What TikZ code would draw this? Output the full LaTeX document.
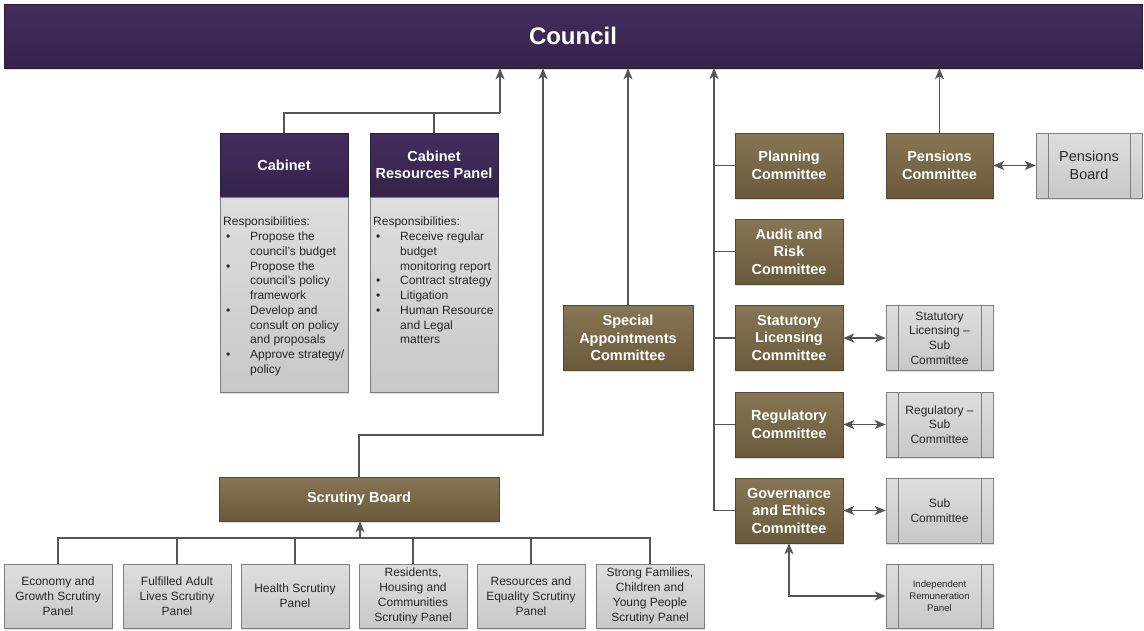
\documentclass[tikz,border=0pt]{standalone}
\usepackage{fontspec}
\setmainfont{Liberation Sans}
\usetikzlibrary{arrows.meta,shadows}
\definecolor{purpletop}{HTML}{432D5E}
\definecolor{purplebot}{HTML}{35234A}
\definecolor{browntop}{HTML}{877655}
\definecolor{brownbot}{HTML}{6A5A3B}
\definecolor{greytop}{HTML}{DEDEDE}
\definecolor{greybot}{HTML}{C8C8C8}
\definecolor{edge}{HTML}{7F7F7F}
\definecolor{wire}{HTML}{555555}
\newcommand{\bul}{\hspace*{3pt}\makebox[24pt][l]{\textbullet}}
\newcommand{\ind}{\hspace*{27pt}}
\begin{document}
\begin{tikzpicture}[x=1pt,y=-1pt,>={Stealth[length=11pt,width=9pt,inset=3pt]},
	shade/.style={drop shadow={opacity=0.25,shadow xshift=1.2pt,shadow yshift=-1.5pt}},
	purplebox/.style={shade,draw=purplebot!80!black,line width=0.5pt,top color=purpletop,bottom color=purplebot,text=white,font=\fontsize{14.5}{17.5}\selectfont\bfseries,align=center,inner sep=0pt},
	cttee/.style={shade,draw=brownbot!80!black,line width=0.5pt,top color=browntop,bottom color=brownbot,text=white,font=\fontsize{14.5}{17.5}\selectfont\bfseries,align=center,inner sep=0pt,minimum width=108pt,minimum height=65pt},
	greybox/.style={shade,draw=edge,line width=0.6pt,top color=greytop,bottom color=greybot,text=black!85,font=\fontsize{12}{15}\selectfont,align=center,inner sep=0pt},
	panel/.style={greybox,minimum width=108pt,minimum height=64pt},
	subbox/.style={greybox,minimum width=107pt,minimum height=65pt,font=\fontsize{12}{14.6}\selectfont,
		path picture={\draw[edge,line width=0.6pt]
			([xshift=12pt]path picture bounding box.north west) -- ([xshift=12pt]path picture bounding box.south west)
			([xshift=-12pt]path picture bounding box.north east) -- ([xshift=-12pt]path picture bounding box.south east);}},
	duty/.style={anchor=north west,inner sep=0pt,align=left,text=black!85,font=\fontsize{12}{14.75}\selectfont},
	link/.style={draw=wire,line width=1.8pt}]
	\useasboundingbox (0,0) rectangle (1144,630);
	\node[purplebox,minimum width=1138pt,minimum height=64pt,font=\fontsize{24}{28}\selectfont\bfseries] (council) at (573,36) {Council};
	\node[purplebox,minimum width=128pt,minimum height=64pt] (cab) at (284,165) {Cabinet};
	\node[purplebox,minimum width=128pt,minimum height=64pt] (crp) at (434,165) {Cabinet\\Resources Panel};
	\node[greybox,minimum width=128pt,minimum height=195pt] (cabbody) at (284,294.5) {};
	\node[greybox,minimum width=128pt,minimum height=195pt] (crpbody) at (434,294.5) {};
	\node[duty] (cabtxt) at (223,217) {Responsibilities:\\
		\bul Propose the\\ \ind council’s budget\\
		\bul Propose the\\ \ind council’s policy\\ \ind framework\\
		\bul Develop and\\ \ind consult on policy\\ \ind and proposals\\
		\bul Approve strategy/\\ \ind policy};
	\node[duty] (crptxt) at (373,217) {Responsibilities:\\
		\bul Receive regular\\ \ind budget\\ \ind monitoring report\\
		\bul Contract strategy\\
		\bul Litigation\\
		\bul Human Resource\\ \ind and Legal\\ \ind matters};
	\node[cttee,minimum width=280pt,minimum height=44pt] (sb) at (359,499) {Scrutiny Board};
	\node[cttee,minimum width=130pt] (spc) at (628,338) {Special\\Appointments\\Committee};
	\node[cttee] (pla) at (789,165.5) {Planning\\Committee};
	\node[cttee] (aud) at (789,251.5) {Audit and\\Risk\\Committee};
	\node[cttee] (stl) at (789,338) {Statutory\\Licensing\\Committee};
	\node[cttee] (reg) at (789,424.5) {Regulatory\\Committee};
	\node[cttee] (gov) at (789,510.5) {Governance\\and Ethics\\Committee};
	\node[cttee,minimum width=107pt] (pen) at (939.5,165.5) {Pensions\\Committee};
	\node[subbox,minimum width=106pt,font=\fontsize{14.5}{17.5}\selectfont] (pb) at (1089,165.5) {Pensions\\Board};
	\node[subbox] (stlsub) at (939.5,338) {Statutory\\Licensing --\\Sub\\Committee};
	\node[subbox] (regsub) at (939.5,424.5) {Regulatory --\\Sub\\Committee};
	\node[subbox] (govsub) at (939.5,510.5) {Sub\\Committee};
	\node[subbox,minimum height=64pt,font=\fontsize{9.6}{12.3}\selectfont] (irp) at (939.5,596) {Independent\\Remuneration\\Panel};
	\foreach \n/\x/\t in {p1/58/{Economy and\\Growth Scrutiny\\Panel},
		p2/177/{Fulfilled Adult\\Lives Scrutiny\\Panel},
		p3/295/{Health Scrutiny\\Panel},
		p4/413/{Residents,\\Housing and\\Communities\\Scrutiny Panel},
		p5/531/{Resources and\\Equality Scrutiny\\Panel},
		p6/650/{Strong Families,\\Children and\\Young People\\Scrutiny Panel}}
		\node[panel] (\n) at (\x,596) {\t};
	\coordinate (jc) at (500,113);
	\coordinate (js) at (543,435);
	\coordinate (tr) at (714,68);
	\coordinate (bus) at (360,538);
	\draw[link] (cab.north) |- (jc);
	\draw[link] (crp.north) |- (jc);
	\draw[link,->] (jc) -- (jc |- council.south);
	\draw[link,->] (sb.north) |- (js) -- (js |- council.south);
	\draw[link,->] (spc.north) -- (spc.north |- council.south);
	\draw[link,->] (gov.west) -| (tr);
	\foreach \c in {pla,aud,stl,reg}
		\draw[link] (\c.west) -- (\c.west -| tr);
	\draw[link,->] (pen.north) -- (pen.north |- council.south);
	\draw[link,<->] (pen.east) -- (pb.west);
	\draw[link,<->] (stl.east) -- (stlsub.west);
	\draw[link,<->] (reg.east) -- (regsub.west);
	\draw[link,<->] (gov.east) -- (govsub.west);
	\draw[link,<->] (gov.south) |- (irp.west);
	\foreach \n in {p1,p2,p3,p4,p5,p6}
		\draw[link] (\n.north) |- (bus);
	\draw[link,->] (bus) -- (bus |- sb.south);
\end{tikzpicture}
\end{document}
